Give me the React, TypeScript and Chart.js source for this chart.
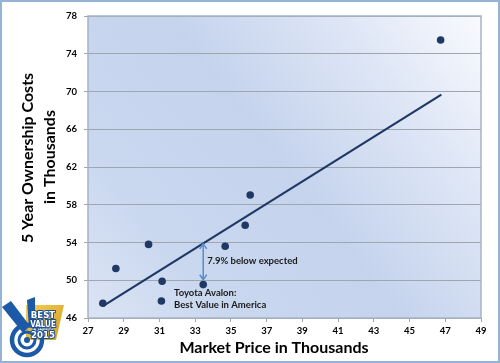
import React, { useEffect, useRef } from 'react';
import { Chart, registerables } from 'chart.js';

Chart.register(...registerables);

// ---- data ----
const marketPriceK = [27.83, 28.56, 30.39, 31.15, 31.11, 33.45, 34.68, 35.8, 36.08, 46.74];
const ownershipCostK = [47.57, 51.24, 53.8, 49.9, 47.8, 49.54, 53.6, 55.83, 59.04, 75.46];
const trendPriceK = [27.83, 46.78];
const trendCostK = [47.26, 69.67];
const xTickValues = [27, 29, 31, 33, 35, 37, 39, 41, 43, 45, 47, 49];
const yTickValues = [46, 50, 54, 58, 62, 66, 70, 74, 78];
const gapPrice = [33.45];
const gapTop = [53.85];
const gapBottom = [50.05];
const gapLabel = '7.9% below expected';
const avalonLabel = ['Toyota Avalon:', 'Best Value in America'];
const xTitle = 'Market Price in Thousands';
const yTitle = ['5 Year Ownership Costs', 'in Thousands'];
const logoText = ['BEST', 'VALUE', 'IN AMERICA', '2015'];

const FONT = 'Lato, "Open Sans", "DejaVu Sans", sans-serif';
const NAVY = '#1f3864';

function drawLogo(ctx: CanvasRenderingContext2D) {
  ctx.save();
  // gold plate
  const g = ctx.createLinearGradient(26, 304, 62, 340);
  g.addColorStop(0, '#f3cf5a');
  g.addColorStop(1, '#d59f1e');
  ctx.fillStyle = g;
  ctx.beginPath();
  ctx.moveTo(26, 305);
  ctx.lineTo(64, 305);
  ctx.lineTo(56, 340);
  ctx.lineTo(26, 340);
  ctx.closePath();
  ctx.fill();
  // blue V
  ctx.fillStyle = '#1c5aa8';
  ctx.beginPath();
  ctx.moveTo(2, 307);
  ctx.lineTo(11, 301);
  ctx.lineTo(30, 326);
  ctx.lineTo(23, 333);
  ctx.closePath();
  ctx.fill();
  ctx.beginPath();
  ctx.moveTo(27, 300);
  ctx.lineTo(35, 297);
  ctx.lineTo(35, 322);
  ctx.lineTo(29, 328);
  ctx.closePath();
  ctx.fill();
  // rings
  ctx.strokeStyle = '#1c5aa8';
  ctx.lineWidth = 4.5;
  ctx.beginPath();
  ctx.arc(27, 340, 15, 0, Math.PI * 2);
  ctx.stroke();
  ctx.lineWidth = 3;
  ctx.beginPath();
  ctx.arc(27, 340, 8, 0, Math.PI * 2);
  ctx.stroke();
  ctx.fillStyle = '#1c5aa8';
  ctx.beginPath();
  ctx.arc(27, 340, 3, 0, Math.PI * 2);
  ctx.fill();
  // text
  ctx.textAlign = 'center';
  ctx.textBaseline = 'middle';
  ctx.lineJoin = 'round';
  const items: [string, number, number][] = [
    [logoText[0], 316, 9.5],
    [logoText[1], 324.5, 8],
    [logoText[2], 330, 3.5],
    [logoText[3], 336, 9.5],
  ];
  for (const [t, y, s] of items) {
    ctx.font = `bold ${s}px "DejaVu Sans Condensed", "DejaVu Sans", sans-serif`;
    ctx.strokeStyle = '#1c4f92';
    ctx.lineWidth = s > 5 ? 2 : 1;
    ctx.strokeText(t, 43, y);
    ctx.fillStyle = '#ffffff';
    ctx.fillText(t, 43, y);
  }
  ctx.restore();
}

const decorPlugin = {
  id: 'decor',
  beforeDraw(chart: any) {
    const { ctx, chartArea: a } = chart;
    ctx.save();
    ctx.fillStyle = '#ffffff';
    ctx.fillRect(0, 0, chart.width, chart.height);
    ctx.strokeStyle = '#95b3d7';
    ctx.lineWidth = 2;
    ctx.strokeRect(1, 1, chart.width - 2, chart.height - 2);
    const g = ctx.createLinearGradient(a.right, a.top, a.left, a.bottom);
    g.addColorStop(0, '#f9fafe');
    g.addColorStop(0.22, '#dfe7f6');
    g.addColorStop(0.5, '#c5d3ed');
    g.addColorStop(0.78, '#c9d7ef');
    g.addColorStop(1, '#dbe4f4');
    ctx.fillStyle = g;
    ctx.fillRect(a.left, a.top, a.right - a.left, a.bottom - a.top);
    ctx.restore();
  },
  beforeDatasetsDraw(chart: any) {
    const { ctx, chartArea: a } = chart;
    ctx.save();
    ctx.strokeStyle = '#a7b3c4';
    ctx.lineWidth = 1.5;
    ctx.strokeRect(a.left, a.top, a.right - a.left, a.bottom - a.top);
    ctx.restore();
  },
  afterDraw(chart: any) {
    const { ctx } = chart;
    const xs = chart.scales.x;
    const ys = chart.scales.y;
    ctx.save();
    // gap arrow
    const ax = xs.getPixelForValue(gapPrice[0]);
    const at = ys.getPixelForValue(gapTop[0]);
    const ab = ys.getPixelForValue(gapBottom[0]);
    ctx.strokeStyle = '#5a8ccb';
    ctx.lineWidth = 1.5;
    ctx.beginPath();
    ctx.moveTo(ax, at);
    ctx.lineTo(ax, ab);
    ctx.moveTo(ax - 3.5, at + 5);
    ctx.lineTo(ax, at);
    ctx.lineTo(ax + 3.5, at + 5);
    ctx.moveTo(ax - 3.5, ab - 5);
    ctx.lineTo(ax, ab);
    ctx.lineTo(ax + 3.5, ab - 5);
    ctx.stroke();
    // labels
    ctx.fillStyle = '#1a1a1a';
    ctx.font = `bold 9.5px ${FONT}`;
    ctx.textAlign = 'left';
    ctx.textBaseline = 'middle';
    ctx.fillText(gapLabel, xs.getPixelForValue(33.67), ys.getPixelForValue(52.05));
    ctx.fillText(avalonLabel[0], xs.getPixelForValue(31.82), ys.getPixelForValue(48.66));
    ctx.fillText(avalonLabel[1], xs.getPixelForValue(31.82), ys.getPixelForValue(47.35));
    // axis titles
    ctx.fillStyle = '#000000';
    ctx.font = `bold 16px ${FONT}`;
    ctx.textAlign = 'center';
    ctx.fillText(xTitle, 274, 348);
    ctx.save();
    ctx.translate(28, 158);
    ctx.rotate(-Math.PI / 2);
    ctx.fillText(yTitle[0], 0, 0);
    ctx.restore();
    ctx.save();
    ctx.translate(50, 157);
    ctx.rotate(-Math.PI / 2);
    ctx.fillText(yTitle[1], 0, 0);
    ctx.restore();
    ctx.restore();
    drawLogo(ctx);
  },
};

export default function App() {
  const ref = useRef<HTMLCanvasElement | null>(null);
  useEffect(() => {
    if (!ref.current) return;
    const chart = new Chart(ref.current, {
      type: 'scatter',
      data: {
        datasets: [
          {
            label: 'Trend',
            data: trendPriceK.map((x, i) => ({ x, y: trendCostK[i] })),
            showLine: true,
            borderColor: NAVY,
            borderWidth: 2.2,
            pointRadius: 0,
            order: 2,
          },
          {
            label: 'Vehicles',
            data: marketPriceK.map((x, i) => ({ x, y: ownershipCostK[i] })),
            backgroundColor: NAVY,
            borderColor: NAVY,
            pointRadius: 3.8,
            pointBorderWidth: 0,
            order: 1,
          },
        ],
      },
      options: {
        animation: false,
        responsive: false,
        devicePixelRatio: 1,
        layout: { padding: { top: 16, right: 19, left: 0, bottom: 0 } },
        plugins: { legend: { display: false }, tooltip: { enabled: false } },
        scales: {
          x: {
            type: 'linear',
            min: 27,
            max: 49,
            afterBuildTicks: (s: any) => {
              s.ticks = xTickValues.map((v) => ({ value: v }));
            },
            afterFit: (s: any) => {
              s.height = 45;
            },
            grid: { drawOnChartArea: false, drawTicks: true, tickLength: 4, color: '#a0a6ae' },
            border: { display: false },
            ticks: {
              padding: 3,
              color: '#000',
              font: { family: FONT, size: 9.5, weight: 'bold' },
              maxRotation: 0,
              autoSkip: false,
            },
          },
          y: {
            type: 'linear',
            min: 46,
            max: 78,
            afterBuildTicks: (s: any) => {
              s.ticks = yTickValues.map((v) => ({ value: v }));
            },
            afterFit: (s: any) => {
              s.width = 88;
            },
            grid: { drawTicks: true, tickLength: 4, color: '#a0a6ae', lineWidth: 1 },
            border: { display: false },
            ticks: {
              padding: 7,
              color: '#000',
              font: { family: FONT, size: 9.5, weight: 'bold' },
              autoSkip: false,
            },
          },
        },
      },
      plugins: [decorPlugin],
    } as any);
    return () => chart.destroy();
  }, []);
  return (
    <div style={{ position: 'absolute', left: 0, top: 0, width: 500, height: 363 }}>
      <canvas ref={ref} width={500} height={363} style={{ display: 'block' }} />
    </div>
  );
}
